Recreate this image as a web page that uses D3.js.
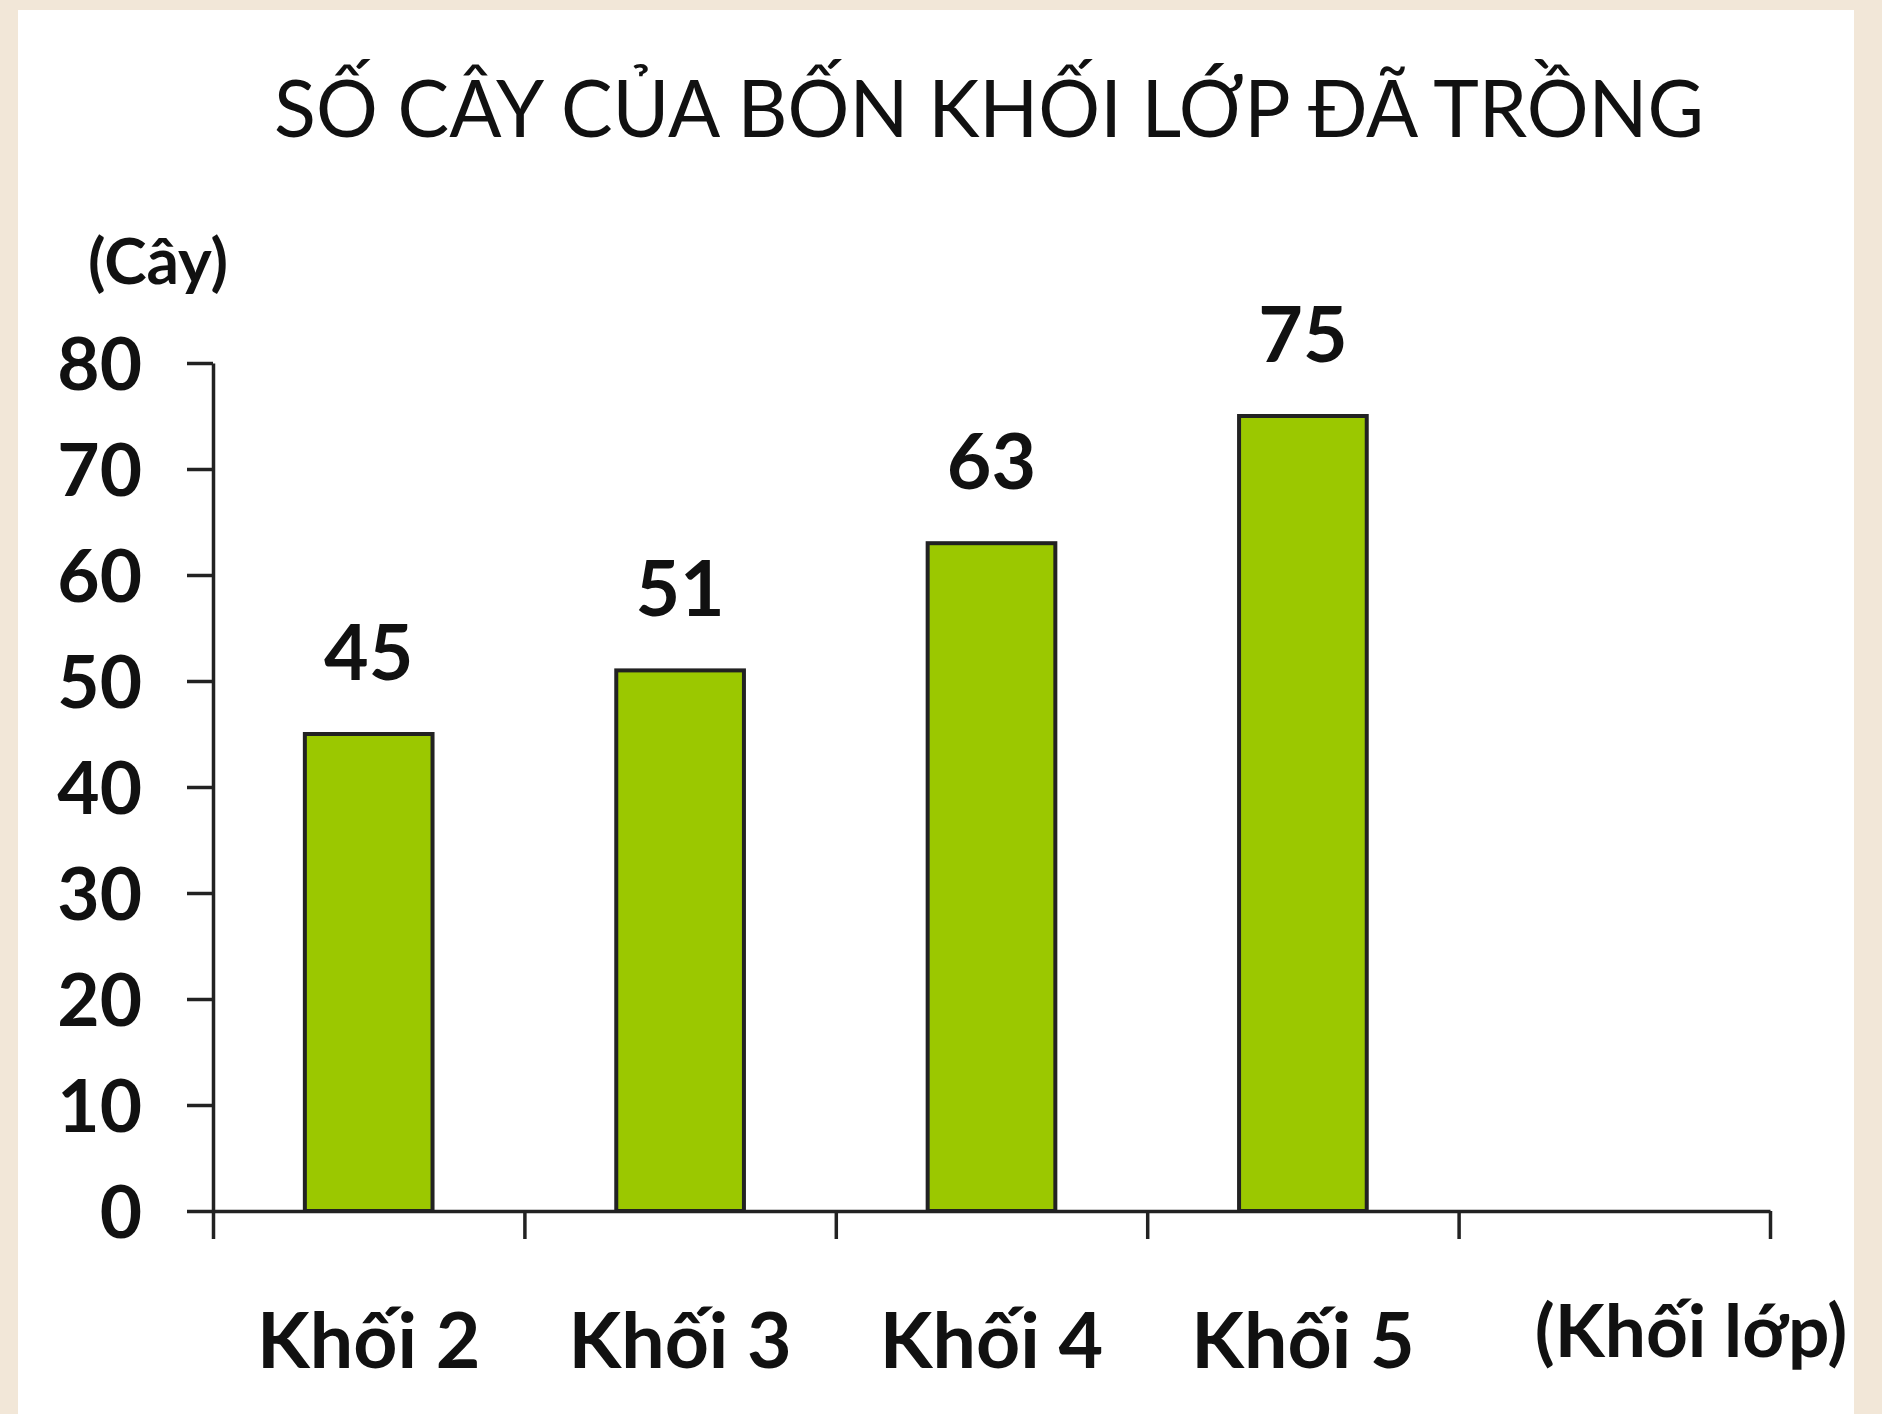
<!DOCTYPE html>
<html>
<head>
<meta charset="utf-8">
<script src="https://cdn.jsdelivr.net/npm/d3@7"></script>
<style>
  html, body { margin: 0; padding: 0; background: #f2e7d8; }
  svg { display: block; }
</style>
</head>
<body>
<svg id="chart" width="1882" height="1414"></svg>
<script>
// ---- data ----
const categories = ["Khối 2", "Khối 3", "Khối 4", "Khối 5"];
const values = [45, 51, 63, 75];
const yTicks = [0, 10, 20, 30, 40, 50, 60, 70, 80];
const titleText = "SỐ CÂY CỦA BỐN KHỐI LỚP ĐÃ TRỒNG";
const yUnit = "(Cây)";
const xUnit = "(Khối lớp)";

(function () {
const svg = d3.select("#chart");
const W = 1882, H = 1414;

// panel
svg.append("rect").attr("x", 18).attr("y", 10).attr("width", 1836).attr("height", H - 10).attr("fill", "#ffffff");

const font = "Lato, 'Open Sans', sans-serif";
const ink = "#111";

// plot area
const pLeft = 213, pRight = 1770, pTop = 363, pBottom = 1211;
const slots = categories.concat([""]);
const x = d3.scaleBand().domain(slots).range([pLeft, pRight]).paddingInner(0).paddingOuter(0);
const xEdge = d3.scaleLinear().domain([0, slots.length]).range([pLeft, pRight]);
const y = d3.scaleLinear().domain([0, 80]).range([pBottom, pTop]);
const barFrac = 0.41;

// title
svg.append("text")
  .attr("x", 989).attr("y", 137)
  .attr("text-anchor", "middle")
  .attr("font-family", font).attr("font-weight", 400).attr("font-size", 80)
  .attr("textLength", 1430).attr("lengthAdjust", "spacingAndGlyphs")
  .attr("fill", ink)
  .text(titleText);

// y unit
svg.append("text")
  .attr("x", 158).attr("y", 284)
  .attr("text-anchor", "middle")
  .attr("font-family", font).attr("font-weight", 700).attr("font-size", 64)
  .attr("fill", ink)
  .text(yUnit);

// y axis
const yAxis = d3.axisLeft(y).tickValues(yTicks).tickSize(26).tickSizeOuter(0).tickPadding(45);
const gy = svg.append("g").attr("transform", `translate(${pLeft},0)`).call(yAxis);
gy.select(".domain").attr("stroke", "#222").attr("stroke-width", 3.5);
gy.selectAll(".tick line").attr("stroke", "#222").attr("stroke-width", 3.5);
gy.selectAll(".tick text")
  .attr("font-family", font).attr("font-weight", 700).attr("font-size", 73)
  .attr("fill", ink).attr("dy", "0.36em");

// bars
svg.append("g").selectAll("rect").data(categories).join("rect")
  .attr("x", d => x(d) + x.bandwidth() * (1 - barFrac) / 2)
  .attr("width", x.bandwidth() * barFrac)
  .attr("y", (d, i) => y(values[i]))
  .attr("height", (d, i) => y(0) - y(values[i]))
  .attr("fill", "#9bc800")
  .attr("stroke", "#222").attr("stroke-width", 4);

// value labels
svg.append("g").selectAll("text").data(categories).join("text")
  .attr("x", d => x(d) + x.bandwidth() / 2)
  .attr("y", (d, i) => y(values[i]) - 54)
  .attr("text-anchor", "middle")
  .attr("font-family", font).attr("font-weight", 700).attr("font-size", 77)
  .attr("fill", ink)
  .text((d, i) => values[i]);

// x axis
const xAxis = d3.axisBottom(xEdge).tickValues(d3.range(slots.length + 1)).tickFormat("").tickSize(28).tickSizeOuter(0);
const gx = svg.append("g").attr("transform", `translate(0,${pBottom})`).call(xAxis);
gx.select(".domain").attr("stroke", "#222").attr("stroke-width", 3.5);
gx.selectAll(".tick line").attr("stroke", "#222").attr("stroke-width", 3.5);

// category labels
svg.append("g").selectAll("text").data(categories).join("text")
  .attr("x", d => x(d) + x.bandwidth() / 2)
  .attr("y", 1368)
  .attr("text-anchor", "middle")
  .attr("font-family", font).attr("font-weight", 700).attr("font-size", 77)
  .attr("fill", ink)
  .text(d => d);

// x unit
svg.append("text")
  .attr("x", 1691).attr("y", 1357)
  .attr("text-anchor", "middle")
  .attr("font-family", font).attr("font-weight", 700).attr("font-size", 73)
  .attr("fill", ink)
  .text(xUnit);
})();
</script>
</body>
</html>
